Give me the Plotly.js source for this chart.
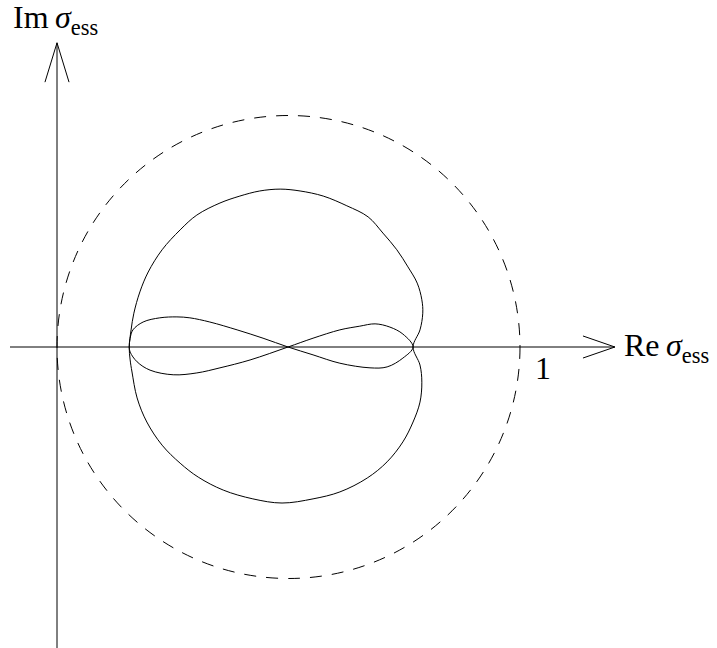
<!DOCTYPE html>
<html>
<head>
<meta charset="utf-8">
<script src="https://cdn.plot.ly/plotly-3.0.1.min.js"></script>
<style>
  html, body { margin: 0; padding: 0; background: #fff; }
  #chart { width: 717px; height: 648px; }
</style>
</head>
<body>
<div id="chart"></div>
<script>
// outer loop, starting and ending at the kink on the right of the real axis
const outerRe = [0.769, 0.784, 0.790, 0.788, 0.778, 0.758, 0.734, 0.704, 0.672, 0.626, 0.575, 0.525, 0.482, 0.438,
    0.395, 0.352, 0.302, 0.266, 0.227, 0.197, 0.179, 0.166, 0.160, 0.156, 0.158, 0.162, 0.173, 0.194, 0.227,
    0.266, 0.305, 0.359, 0.423, 0.486, 0.553, 0.611, 0.670, 0.713, 0.747, 0.769, 0.784, 0.788, 0.784, 0.769];
const outerIm = [0, 0.037, 0.073, 0.102, 0.138, 0.173, 0.210, 0.246, 0.281, 0.305, 0.326, 0.337, 0.341, 0.337,
    0.326, 0.311, 0.285, 0.253, 0.210, 0.162, 0.119, 0.073, 0.037, 0, -0.028, -0.054, -0.110, -0.162, -0.212,
    -0.251, -0.281, -0.309, -0.328, -0.337, -0.328, -0.313, -0.283, -0.248, -0.205, -0.162, -0.119, -0.076,
    -0.039, 0];

// figure eight, from the right tip through the crossing to the left lobe and back
const eightRe = [0.769, 0.747, 0.719, 0.687, 0.654, 0.611, 0.553, 0.499,
    0.417, 0.352, 0.302, 0.251, 0.201, 0.173, 0.158, 0.156,
    0.158, 0.164, 0.186, 0.222, 0.259, 0.287, 0.330, 0.389, 0.445, 0.499,
    0.553, 0.611, 0.676, 0.713, 0.747, 0.769];
const eightIm = [0, 0.028, 0.043, 0.050, 0.045, 0.037, 0.019, 0,
    -0.028, -0.045, -0.056, -0.060, -0.050, -0.032, -0.011, 0,
    0.019, 0.037, 0.054, 0.063, 0.065, 0.063, 0.054, 0.037, 0.019, 0,
    -0.017, -0.035, -0.045, -0.043, -0.024, 0];

// dashed circle |z - 1/2| = 1/2
const circleCenter = 0.5;
const circleRadius = 0.5;

const tickOne = '1';
const reLabel = 'Re\u2009<i>σ</i><sub>ess</sub>';
const imLabel = 'Im\u2009<i>σ</i><sub>ess</sub>';

const font = { family: '"Liberation Serif", "DejaVu Serif", serif', size: 32, color: 'black' };

const curveLine = { color: 'black', width: 1, shape: 'spline', smoothing: 1 };

const traces = [
    { x: outerRe, y: outerIm, type: 'scatter', mode: 'lines', line: curveLine, hoverinfo: 'skip' },
    { x: eightRe, y: eightIm, type: 'scatter', mode: 'lines', line: curveLine, hoverinfo: 'skip' }
];

const axisLine = { color: 'black', width: 1 };

const shapes = [
    {
        type: 'circle', xref: 'x', yref: 'y',
        x0: circleCenter - circleRadius, x1: circleCenter + circleRadius,
        y0: -circleRadius, y1: circleRadius,
        line: { color: 'black', width: 1, dash: '12px,10px' }
    },
    // real axis with open arrow head
    { type: 'line', x0: -0.1015, x1: 1.205, y0: 0, y1: 0, line: axisLine },
    { type: 'path', path: 'M 1.136,0.0238 L 1.205,0 L 1.136,-0.0238', line: axisLine },
    // imaginary axis
    { type: 'line', x0: 0, x1: 0, y0: -0.66, y1: 0.657, line: axisLine },
    { type: 'path', path: 'M -0.026,0.572 L 0,0.657 L 0.026,0.572', line: axisLine }
];

const annotations = [
    { x: 1.220, y: 0.000, xanchor: 'left', yanchor: 'middle', text: reLabel, showarrow: false, font: font },
    { x: -0.099, y: 0.708, xanchor: 'left', yanchor: 'middle', text: imLabel, showarrow: false, font: font },
    { x: 1.050, y: -0.045, xanchor: 'center', yanchor: 'middle', text: tickOne, showarrow: false, font: font }
];

const layout = {
    width: 717,
    height: 648,
    margin: { l: 0, r: 0, t: 0, b: 0 },
    paper_bgcolor: 'white',
    plot_bgcolor: 'white',
    showlegend: false,
    xaxis: { range: [-57 / 463, 660 / 463], visible: false, fixedrange: true },
    yaxis: { range: [-301 / 463, 347 / 463], visible: false, fixedrange: true },
    shapes: shapes,
    annotations: annotations
};

Plotly.newPlot('chart', traces, layout, { staticPlot: true, displayModeBar: false });
</script>
</body>
</html>
